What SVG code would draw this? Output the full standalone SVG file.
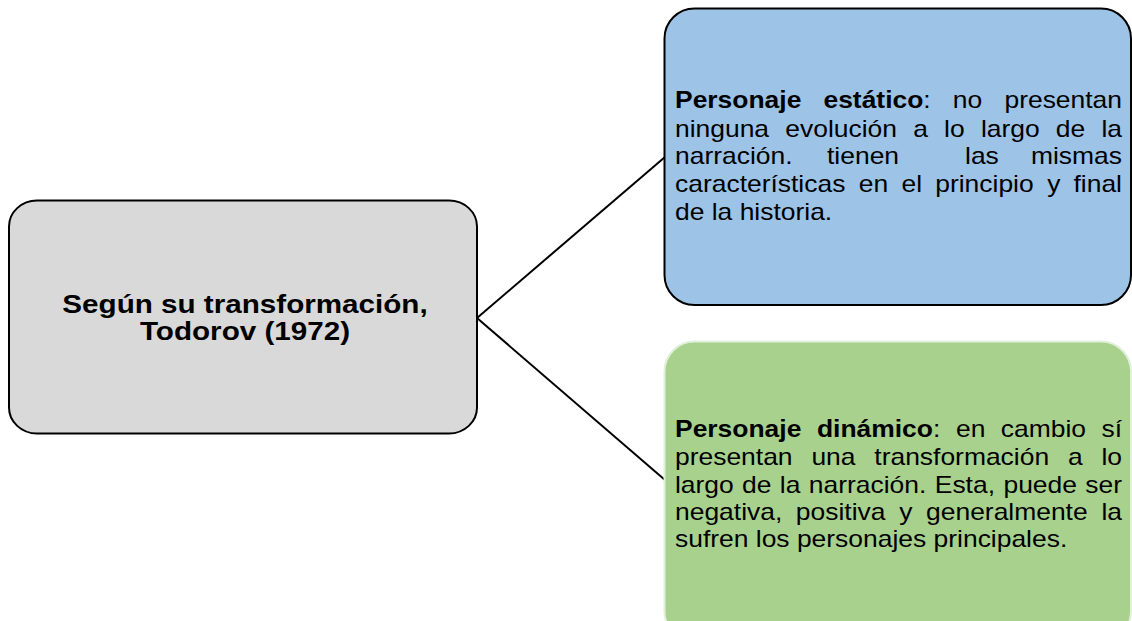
<svg xmlns="http://www.w3.org/2000/svg" width="1132" height="621" viewBox="0 0 1132 621">
<style>
.t{font-family:"Liberation Sans",Arial,sans-serif;font-size:23px;fill:#000}
.b{font-weight:bold}
.c{font-family:"Liberation Sans",Arial,sans-serif;font-size:26px;font-weight:bold;fill:#000;text-anchor:middle}
.e{text-anchor:end}
</style>
<rect width="1132" height="621" fill="#ffffff"/>
<g id="connectors" stroke="#000" stroke-width="2" fill="none">
<line x1="477" y1="318" x2="665" y2="157"/>
<line x1="477" y1="318" x2="665" y2="480"/>
</g>
<g id="node-root">
<rect x="9" y="200.5" width="468" height="233" rx="28" ry="26" fill="#d9d9d9" stroke="#000" stroke-width="2"/>
<g transform="translate(245,0) scale(1.14,1)">
<text class="c" x="0" y="313">Según su transformación,</text>
<text class="c" x="0" y="340.5">Todorov (1972)</text>
</g>
</g>
<g id="node-estatico">
<rect x="664.5" y="8.5" width="466.5" height="296.5" rx="30" ry="30" fill="#9dc3e6" stroke="#000" stroke-width="2"/>
<g class="t" transform="translate(675,0) scale(1.15,1)">
<text x="0" y="108"><tspan class="b">Personaje</tspan><tspan class="b" x="129.1">estático</tspan>:<tspan x="241.6">no</tspan><tspan class="e" x="388.7">presentan</tspan></text>
<text x="0" y="137">ninguna<tspan x="95.9">evolución</tspan><tspan x="207.1">a</tspan><tspan x="234">lo</tspan><tspan x="266">largo</tspan><tspan x="331.2">de</tspan><tspan class="e" x="388.7">la</tspan></text>
<text x="0" y="164">narración.<tspan x="132.2">tienen</tspan><tspan x="252.2">las</tspan><tspan class="e" x="388.7">mismas</tspan></text>
<text x="0" y="192">características<tspan x="159.8">en</tspan><tspan x="197">el</tspan><tspan x="226.3">principio</tspan><tspan x="323.6">y</tspan><tspan class="e" x="388.7">final</tspan></text>
<text x="0" y="220">de la historia.</text>
</g>
</g>
<g id="node-dinamico">
<rect x="664.5" y="341.5" width="466.5" height="300" rx="30" ry="30" fill="#a9d18e" stroke="#e2efda" stroke-width="2"/>
<g class="t" transform="translate(675,0) scale(1.15,1)">
<text x="0" y="437"><tspan class="b">Personaje</tspan><tspan class="b" x="123.4">dinámico</tspan>:<tspan x="244.3">en</tspan><tspan x="283.3">cambio</tspan><tspan class="e" x="388.7">sí</tspan></text>
<text x="0" y="465">presentan<tspan x="118.6">una</tspan><tspan x="173.3">transformación</tspan><tspan x="341.7">a</tspan><tspan class="e" x="388.7">lo</tspan></text>
<text x="0" y="493">largo<tspan x="58.3">de</tspan><tspan x="91.2">la</tspan><tspan x="116.3">narración.</tspan><tspan x="225.9">Esta,</tspan><tspan x="285.6">puede</tspan><tspan class="e" x="388.7">ser</tspan></text>
<text x="0" y="520">negativa,<tspan x="105.1">positiva</tspan><tspan x="195">y</tspan><tspan x="218.3">generalmente</tspan><tspan class="e" x="388.7">la</tspan></text>
<text x="0" y="547">sufren los personajes principales.</text>
</g>
</g>
</svg>
